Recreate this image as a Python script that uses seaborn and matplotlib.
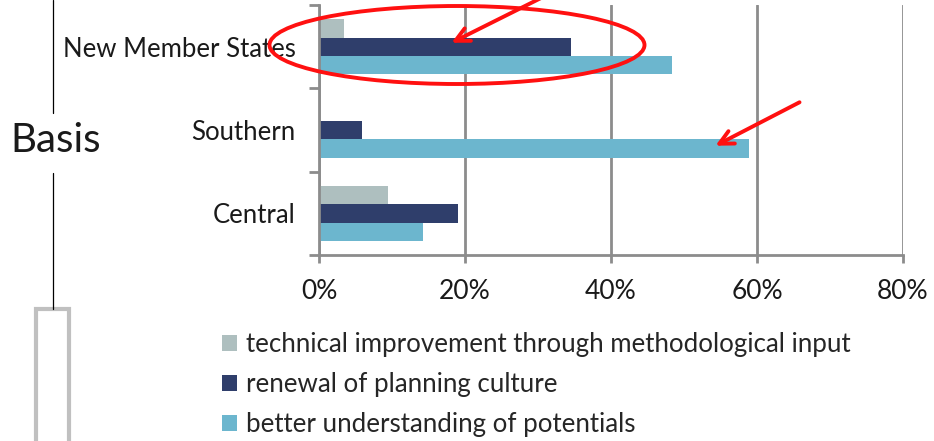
import pandas as pd
import numpy as np
import matplotlib
matplotlib.use('Agg')
import matplotlib.pyplot as plt
import seaborn as sns
from matplotlib.patches import Ellipse, Rectangle
from matplotlib.lines import Line2D

# data (share of answers)
regions = ['New Member States', 'Southern', 'Central']
series = ['technical improvement through methodological input',
          'renewal of planning culture',
          'better understanding of potentials']
technical = [0.034, 0.0, 0.095]
renewal = [0.345, 0.059, 0.190]
understanding = [0.484, 0.589, 0.142]
x_ticks = [0, 0.2, 0.4, 0.6, 0.8]
x_tick_labels = ['0%', '20%', '40%', '60%', '80%']
colors = ['#AEBFBF', '#2F3E6B', '#6CB6CE']

df = pd.DataFrame({
    'region': regions * 3,
    'value': technical + renewal + understanding,
    'series': [s for s in series for _ in regions],
})

sns.set_style('white')
plt.rcParams['font.family'] = ['Lato', 'DejaVu Sans']

W, H = 934, 441
fig = plt.figure(figsize=(W / 100, H / 100), dpi=100)
ax = fig.add_axes([319 / W, 1 - 255 / H, (903 - 319) / W, (255 - 5) / H])

sns.barplot(data=df, y='region', x='value', hue='series', order=regions,
            hue_order=series, palette=colors, orient='h', width=0.66,
            saturation=1, linewidth=0, ax=ax, legend=True)

handles, labels = ax.get_legend_handles_labels()
ax.get_legend().remove()

grey = '#8C8C8C'
ax.set_xlim(0, 0.8)
ax.set_ylim(2.5, -0.5)
ax.set_xticks(x_ticks)
ax.set_xticklabels(x_tick_labels, fontsize=19, color='#1a1a1a')
ax.set_xlabel('')
ax.set_ylabel('')
ax.xaxis.grid(True, color=grey, lw=2)
ax.yaxis.grid(False)
ax.set_axisbelow(True)
for s in ['top', 'right']:
    ax.spines[s].set_visible(False)
for s in ['left', 'bottom']:
    ax.spines[s].set_color(grey)
    ax.spines[s].set_linewidth(2)
ax.tick_params(axis='x', which='major', length=6, width=2, color=grey,
               direction='out', bottom=True, pad=11)
ax.tick_params(axis='y', which='major', length=0, pad=17, labelsize=18.5,
               labelcolor='#1a1a1a')
ax.set_yticks([-0.5, 0.5, 1.5, 2.5], minor=True)
ax.tick_params(axis='y', which='minor', length=7, width=2, color=grey,
               direction='out', left=True)

fig.legend(handles, labels, loc='upper left',
           bbox_to_anchor=(212 / W, 1 - 322 / H), frameon=False,
           fontsize=18.6, handlelength=0.55, handleheight=0.55,
           handletextpad=0.35, labelspacing=0.58, borderaxespad=0)

# red hand-drawn highlight
fig.add_artist(Ellipse((457 / W, 1 - 45 / H), 375 / W, 78 / H,
                       transform=fig.transFigure, fill=False,
                       edgecolor='#FF1010', lw=2.8))
for (x0, y0), (x1, y1) in [((545, -4), (449, 44)), ((802, 101), (713, 147))]:
    ax.annotate('', xy=(x1, H - y1), xycoords='figure pixels',
                xytext=(x0, H - y0), textcoords='figure pixels',
                arrowprops=dict(arrowstyle='->,head_length=1.0,head_width=0.5',
                                color='#FF1010', lw=2.8),
                annotation_clip=False)

# left side slide decoration
fig.add_artist(Line2D([53 / W, 53 / W], [1, 1 - 113 / H], color='black',
                      lw=0.9, transform=fig.transFigure))
fig.add_artist(Line2D([53 / W, 53 / W], [1 - 173 / H, 1 - 309 / H],
                      color='black', lw=0.9, transform=fig.transFigure))
fig.add_artist(Rectangle((36 / W, -0.05), 33 / W, 1 - 309 / H + 0.05,
                         transform=fig.transFigure, fill=False,
                         edgecolor='#C0C0C0', lw=3))
fig.text(10 / W, 1 - 141 / H, 'Basis', fontsize=29, va='center', ha='left',
         color='#1a1a1a')

fig.savefig('out.png', dpi=100)
